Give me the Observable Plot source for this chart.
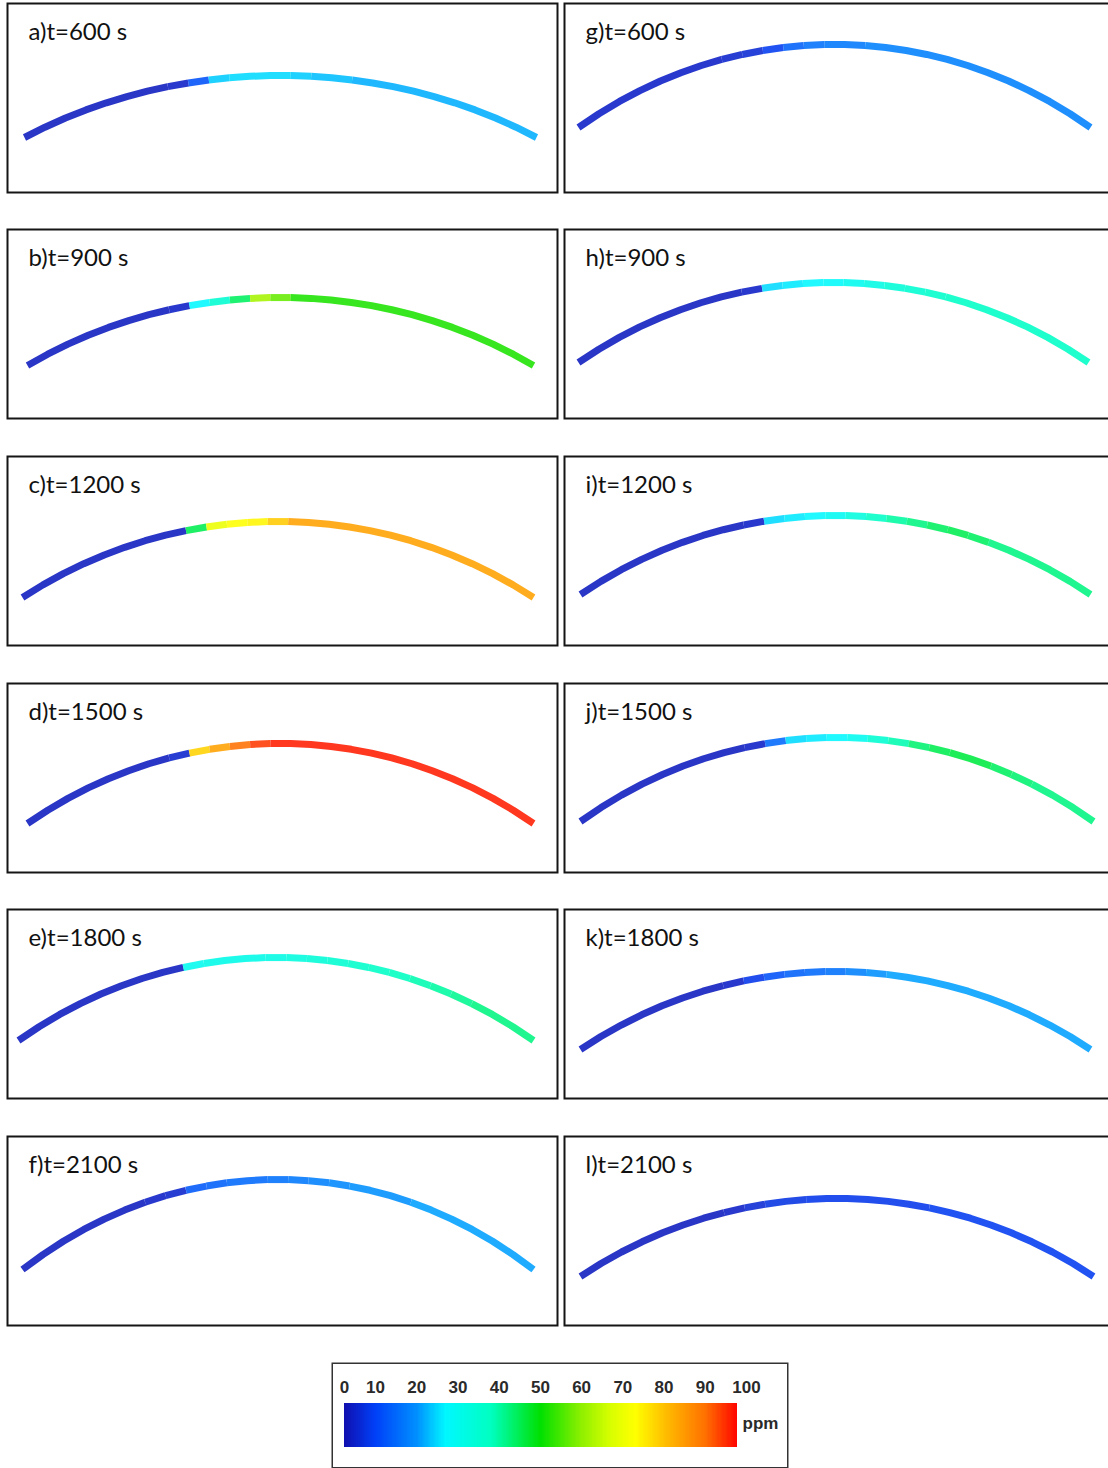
<!DOCTYPE html>
<html><head><meta charset="utf-8">
<script src="https://cdn.jsdelivr.net/npm/d3@7"></script>
<script src="https://cdn.jsdelivr.net/npm/@observablehq/plot@0.6"></script>
<style>
html,body{margin:0;padding:0;background:#fff;}
#root{position:relative;width:1108px;height:1468px;overflow:hidden;}
.panel{position:absolute;}
.panel svg{display:block;overflow:visible;max-width:none !important;}
</style></head><body><div id="root"></div>
<script>
// ---------------- data ----------------
const panelIds = ["a","b","c","d","e","f","g","h","i","j","k","l"];
const panelTimes = [600,900,1200,1500,1800,2100,600,900,1200,1500,1800,2100];

// stations along the pipe (fraction of horizontal length)
const stations = [0,0.04,0.08,0.12,0.16,0.20,0.24,0.28,0.32,0.36,0.40,0.44,0.48,
                  0.52,0.56,0.60,0.64,0.68,0.72,0.76,0.80,0.84,0.88,0.92,0.96,1.00];
// normalised pipe elevation at each station (0 = ends, 1 = crest)
const pipeElevation = [0,0.166,0.314,0.445,0.560,0.660,0.747,0.820,0.880,0.927,0.963,0.987,0.999,
                       0.999,0.987,0.963,0.927,0.880,0.820,0.747,0.660,0.560,0.445,0.314,0.166,0];

// concentration (ppm) read for the pipe stretch starting at each station
const ppmA = [2,2,2,2,2,2,2,3,12,24,25,25,25,24,23,23,22,22,22,22,22,22,22,22,22,22];
const ppmB = [2,2,2,2,2,2,2,3,27,35,44,62,57,52,52,52,52,52,52,52,52,52,52,52,52,52];
const ppmC = [2,2,2,2,2,2,2,2,45,70,73,74,79,84,84,84,84,84,84,84,84,84,84,84,84,84];
const ppmD = [2,2,2,2,2,2,2,4,78,84,90,94,96,96,96,96,96,96,96,96,96,96,96,96,96,96];
const ppmE = [2,2,2,2,2,2,2,2,30,31,31,31,32,33,34,35,36,37,38,39,40,41,42,42,42,42];
const ppmF = [2,2,2,2,2,2,3,4,13,14,15,15,16,17,18,19,20,20,20,21,21,21,21,21,21,21];
const ppmG = [3,3,3,3,3,3,3,4,5,9,14,16,17,17,18,18,18,18,18,18,18,18,18,18,18,18];
const ppmH = [2,2,2,2,2,2,2,2,3,25,26,27,28,30,32,34,35,36,37,37,37,37,37,37,37,37];
const ppmI = [2,2,2,2,2,2,2,2,3,25,26,27,29,33,37,40,42,44,45,44,42,42,42,42,42,42];
const ppmJ = [2,2,2,2,2,2,2,2,3,15,25,26,27,30,35,39,43,45,46,46,44,43,42,42,42,42];
const ppmK = [2,2,2,2,2,2,2,3,8,12,14,15,16,18,20,21,21,21,21,21,21,21,21,21,21,21];
const ppmL = [2,2,2,2,2,2,2,3,5,7,7,8,8,8,8,8,8,9,9,9,9,9,9,9,9,9];
const ppmSeries = [ppmA,ppmB,ppmC,ppmD,ppmE,ppmF,ppmG,ppmH,ppmI,ppmJ,ppmK,ppmL];

const legendTicks = [0,10,20,30,40,50,60,70,80,90,100];
const legendUnit = "ppm";

// ---------------- style / layout ----------------
const colorScale = {
  type: "linear",
  domain: [0,10,20,27,38,50,60,67,73,80,90,98,100],
  range: ["#1010b0","#0040f8","#0090ff","#00f8ff","#00ffc0","#00e000","#90f000",
          "#d8ff00","#ffff00","#ffc000","#ff7000","#ff0000","#ff0000"],
  interpolate: "rgb",
  clamp: true
};

// box position on the page and pipe framing inside the box
const layout = [
  {left:6,   top:2,    xl:18, xr:530, yEnd:135, yPeak:73},
  {left:6,   top:228,  xl:21, xr:527, yEnd:137, yPeak:69},
  {left:6,   top:455,  xl:16, xr:527, yEnd:142, yPeak:66},
  {left:6,   top:682,  xl:21, xr:527, yEnd:141, yPeak:61},
  {left:6,   top:908,  xl:12, xr:527, yEnd:132, yPeak:49},
  {left:6,   top:1135, xl:16, xr:527, yEnd:134, yPeak:44},
  {left:563, top:2,    xl:15, xr:527, yEnd:125, yPeak:42},
  {left:563, top:228,  xl:15, xr:525, yEnd:134, yPeak:54},
  {left:563, top:455,  xl:17, xr:527, yEnd:139, yPeak:60},
  {left:563, top:682,  xl:17, xr:530, yEnd:139, yPeak:55},
  {left:563, top:908,  xl:17, xr:527, yEnd:141, yPeak:63},
  {left:563, top:1135, xl:17, xr:530, yEnd:141, yPeak:63}
];

const root = document.getElementById("root");

// split the pipe into runs of equal concentration; each run ends where the next begins
function pipeRuns(values) {
  const rows = [];
  let run = 0;
  for (let k = 0; k < stations.length - 1; ++k) {
    if (k > 0 && values[k] !== values[k - 1]) run++;
    rows.push({u: stations[k], elev: pipeElevation[k], ppm: values[k], run});
    rows.push({u: stations[k + 1], elev: pipeElevation[k + 1], ppm: values[k], run});
  }
  return rows;
}

panelIds.forEach((id, p) => {
  const L = layout[p];
  const rows = pipeRuns(ppmSeries[p]);
  const chart = Plot.plot({
    width: 552, height: 191, margin: 0,
    x: {domain: [0, 1], range: [L.xl, L.xr], axis: null},
    y: {domain: [0, 1], range: [L.yEnd, L.yPeak], axis: null},
    color: colorScale,
    style: {background: "transparent", overflow: "visible"},
    marks: [
      Plot.frame({stroke: "#151515", strokeWidth: 2, inset: 1}),
      Plot.line(rows, {x: "u", y: "elev", z: "run", stroke: "ppm", strokeWidth: 7,
                       strokeOpacity: 0.88, strokeLinecap: "butt", strokeLinejoin: "round"}),
      Plot.text([`${id})t=${panelTimes[p]} s`], {
        text: d => d, frameAnchor: "top-left", dx: 22, dy: 30,
        textAnchor: "start", lineAnchor: "middle",
        fontSize: 24, fontFamily: "Lato", fill: "#111"
      })
    ]
  });
  const div = document.createElement("div");
  div.className = "panel";
  div.style.left = L.left + "px";
  div.style.top = L.top + "px";
  div.style.width = "552px";
  div.appendChild(chart);
  root.appendChild(div);
});

// ---------------- legend ----------------
const ramp = d3.range(0, 97.8, 0.3);
const legend = Plot.plot({
  width: 457, height: 106, margin: 0,
  x: {type: "linear", domain: [0, 10, 100], range: [13, 44, 415], axis: null},
  y: {domain: [0, 1], range: [85, 41], axis: null},
  color: colorScale,
  style: {background: "transparent", overflow: "visible"},
  marks: [
    Plot.frame({stroke: "#333", strokeWidth: 1.5, inset: 0.75}),
    Plot.rect(ramp, {x1: d => d, x2: d => Math.min(d + 0.45, 97.8), y1: 0, y2: 1,
                     fill: d => d, shapeRendering: "crispEdges"}),
    Plot.text(legendTicks, {x: d => d, text: d => String(d), frameAnchor: "top", dy: 25,
                            lineAnchor: "middle", fontSize: 17, fontWeight: "bold",
                            fontFamily: "Liberation Sans", fill: "#2a2a2a"}),
    Plot.text([legendUnit], {text: d => d, frameAnchor: "top-left", dx: 411, dy: 61,
                             textAnchor: "start", lineAnchor: "middle", fontSize: 17,
                             fontWeight: "bold", fontFamily: "Liberation Sans", fill: "#2a2a2a"})
  ]
});
const ldiv = document.createElement("div");
ldiv.className = "panel";
ldiv.style.left = "331px";
ldiv.style.top = "1362px";
ldiv.style.width = "457px";
ldiv.appendChild(legend);
root.appendChild(ldiv);
</script></body></html>
